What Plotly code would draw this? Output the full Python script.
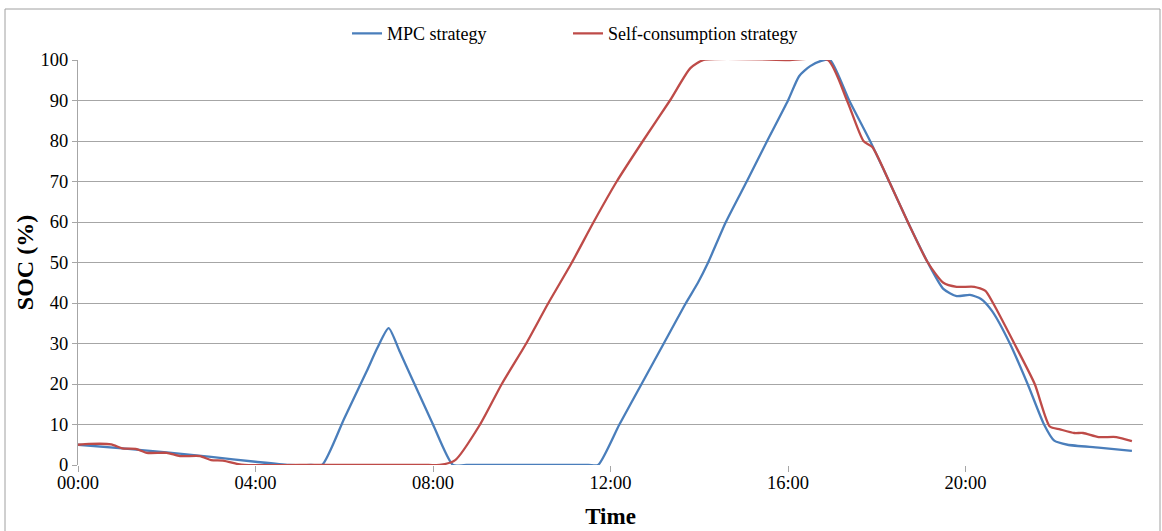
import plotly.graph_objects as go

# ---- data (hours since midnight, SOC %) ----
mpc_time = [0, 1, 2, 3, 4, 4.75, 5.25, 5.5, 6.0, 6.5, 6.75, 7.0, 7.25, 7.5, 8.0, 8.45, 8.75,
            11.5, 11.72, 12.2, 12.7, 13.2, 13.7, 13.97, 14.2, 14.6, 15.07, 15.53, 16.0,
            16.25, 16.5, 16.75, 16.95, 17.38, 17.85, 18.28, 18.7, 19.15, 19.5, 19.8, 20.1,
            20.35, 20.6, 21.0, 21.4, 21.77, 22.0, 22.3, 23.0, 23.75]
mpc_soc = [5, 4.1, 3.1, 2.0, 0.8, 0, 0, 0, 11.5, 23, 29, 33.8, 28, 22, 10, 0, 0,
           0, 0, 10, 20, 30, 40, 45, 50, 60, 70, 80, 90,
           96, 98.5, 99.8, 100, 90, 80, 70, 60, 50, 43.5, 41.7, 42,
           41, 38, 30, 20, 10, 6, 5, 4.3, 3.5]

self_time = [0, 0.25, 0.75, 1.0, 1.3, 1.55, 2.0, 2.3, 2.75, 3.0, 3.27, 3.58, 3.75, 5.0, 7.9, 8.15,
             8.5, 9.06, 9.55, 10.1, 10.6, 11.13, 11.62, 12.14, 12.73, 13.34, 13.8, 14.1,
             16.0, 16.9, 17.33, 17.7, 17.9, 18.28, 18.7, 19.15, 19.5, 19.8, 20.2, 20.45,
             20.62, 21.1, 21.56, 21.9, 22.13, 22.45, 22.65, 23.0, 23.4, 23.75]
self_soc = [5, 5.2, 5.1, 4.1, 4.0, 3.0, 3.0, 2.2, 2.2, 1.2, 1.1, 0.3, 0, 0, 0, 0,
            1.2, 10, 20, 30, 40, 50, 60, 70, 80, 90, 98, 100,
            100, 100, 90, 80, 78.5, 70, 60, 50, 45, 44, 44, 43,
            40, 30, 20, 9.5, 8.8, 7.9, 7.9, 6.9, 6.9, 5.9]

tick_vals = [0, 4, 8, 12, 16, 20]
tick_text = ["00:00", "04:00", "08:00", "12:00", "16:00", "20:00"]
y_ticks = [0, 10, 20, 30, 40, 50, 60, 70, 80, 90, 100]

FONT = "Liberation Serif"
GRID = "#a6a6a6"

fig = go.Figure()
fig.add_trace(go.Scatter(x=mpc_time, y=mpc_soc, mode="lines", name="MPC strategy",
                         legend="legend",
                         line=dict(color="#4a7ebb", width=2.3, shape="spline", smoothing=0.6)))
fig.add_trace(go.Scatter(x=self_time, y=self_soc, mode="lines", name="Self-consumption strategy",
                         legend="legend2",
                         line=dict(color="#be4b48", width=2.3, shape="spline", smoothing=0.6)))

legend_style = dict(orientation="h", y=1.065, xanchor="left", yanchor="middle",
                    font=dict(family=FONT, size=18, color="black"),
                    bgcolor="rgba(0,0,0,0)")

fig.update_layout(
    width=1162, height=531,
    margin=dict(l=78, r=19, t=60, b=66),
    paper_bgcolor="white", plot_bgcolor="white",
    font=dict(family=FONT, size=18, color="black"),
    showlegend=True,
    legend=dict(x=0.2526, **legend_style),
    legend2=dict(x=0.4601, **legend_style),
    xaxis=dict(range=[0, 24], tickvals=tick_vals, ticktext=tick_text,
               showgrid=False, zeroline=False, showline=False,
               ticks="outside", ticklen=6, tickcolor=GRID, ticklabelstandoff=-5,
               tickfont=dict(family=FONT, size=18.5, color="black"),
               title=dict(text="<b>Time</b>", font=dict(family=FONT, size=23, color="black"),
                          standoff=15),
               automargin=False, fixedrange=True),
    yaxis=dict(range=[0, 100], tickvals=y_ticks,
               showgrid=True, gridcolor=GRID, gridwidth=1,
               zeroline=False, showline=True, linecolor=GRID, linewidth=1,
               ticks="outside", ticklen=5, tickcolor=GRID,
               tickfont=dict(family=FONT, size=18.5, color="black"),
               title=dict(text="<b>SOC (%)</b>", font=dict(family=FONT, size=24, color="black"),
                          standoff=0),
               automargin=False, fixedrange=True),
)

# outer chart border
fig.add_shape(type="rect", xref="paper", yref="paper",
              x0=(5 - 78) / 1065, x1=(1160 - 78) / 1065,
              y0=(465 - 540) / 405, y1=1 + (60 - 9) / 405,
              line=dict(color="#a0a0a0", width=1), layer="below")

fig.write_html("out.html", config={"displayModeBar": False},
               post_script="document.body.style.margin='0';")
